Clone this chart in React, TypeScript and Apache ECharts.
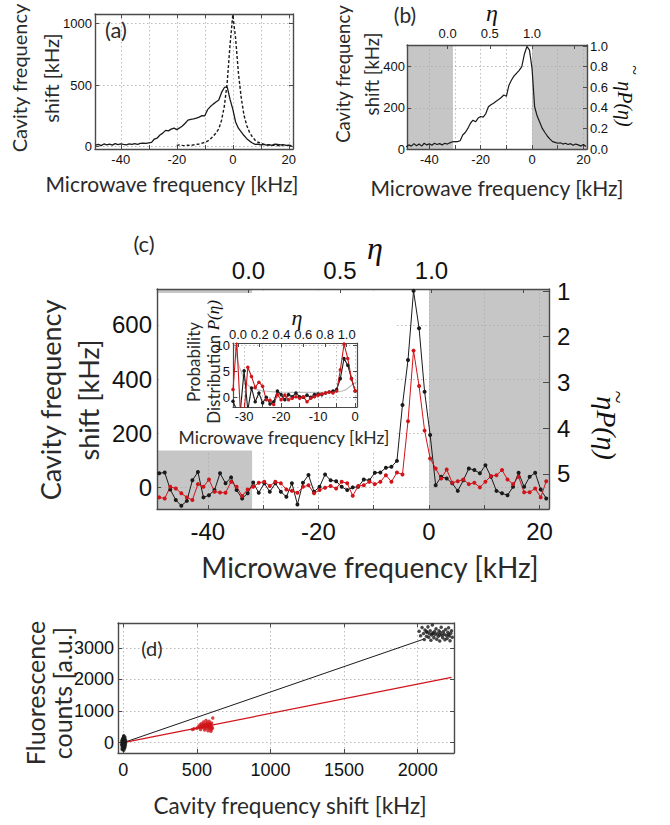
import React, { useEffect, useRef } from "react";
import * as echarts from "echarts";

// ---------- panel (a) ----------
const freqAB = [-49,-48,-47,-46,-45,-44,-43,-42,-41,-40,-39,-38,-37,-36,-35,-34,-33,-32,-31,-30,-29,-28,-27,-26,-25,-24,-23,-22,-21,-20,-19,-18,-17,-16,-15,-14,-13,-12,-11,-10,-9,-8,-7,-6,-5,-4,-3,-2,-1,0,1,2,3,4,5,6,7,8,9,10,11,12,13,14,15,16,17,18,19,20,21];
const solidA = [12,18,8,22,14,20,12,24,16,22, 18,15,22,18,24,19,27,29,27,31, 35,62,70,95,110,132,128,142,150,138, 152,168,190,215,222,225,232,240,252,250, 300,325,345,362,378,440,480,485,385, 305,200,150,120,90,65,45,30,18,20, 15,18,12,16,10,20,18,14,16,10,12,8];
const freqDashA = [-20,-19,-18,-17,-16,-15,-14,-13,-12,-11,-10,-9,-8,-7,-6,-5,-4,-3,-2,-1,0,1,2,3,4,5,6,7,8,9,10,11,12,13,14,15,16,17,18];
const dashedA = [10,14,10,8,12,10,14,18,22,28, 35,45,62,85,110,145,215,330,520,820, 1070,880,600,400,255,170,115,80,52,36, 28,20,16,12,10,12,8,10,8];

// ---------- panel (b) ----------
const solidB = [10,20,14,26,16,24,14,28,20,25, 18,28,22,26,20,28,24,30,35,36, 36,40,68,80,100,125,140,132,150,158, 155,172,205,215,222,232,240,250,262,256, 310,335,355,368,382,400,460,498,480, 390,205,160,130,100,80,62,48,36,32, 28,30,24,28,22,26,18,24,20,14,22,12];
const grayB = [[-48.7, -30.8], [0, 21.4]];

// ---------- panel (c) ----------
const freqC = [-48.8,-47.8,-46.8,-45.8,-44.8,-43.8,-42.8,-41.8,-40.8,-39.8,-38.8,-37.8,-36.8,-35.8,-34.8,-33.8,-32.8,-31.8,-30.8,-29.8,-28.8,-27.8,-26.8,-25.8,-24.8,-23.8,-22.8,-21.8,-20.8,-19.8,-18.8,-17.8,-16.8,-15.8,-14.8,-13.8,-12.8,-11.8,-10.8,-9.8,-8.8,-7.8,-6.8,-5.8,-4.8,-3.8,-2.8,-1.8,-0.8,0.2,1.2,2.2,3.2,4.2,5.2,6.2,7.2,8.2,9.2,10.2,11.2,12.2,13.2,14.2,15.2,16.2,17.2,18.2,19.2,20.2,21.2];
const blackC = [51,54,-9,-48,-69,-51,25,56,-38,-30,-11,51,14,36,-11,-42,-23,17,-21,14,-17,14,-17,-36,14,-64,16,45,-17,1,47,25,22,1,-11,-1, 1,28,25,53,54,72,75,97,304,470,726,588,353,193, 7,38,32,14,-14,25,69,63,51,81,38,-14,-23,-30,1,53,1,38,53,-9,-42];
const redC = [-38,-42,1,-5,-23,-38,-48,11,1,28,-17,-20,-21,20,1,-33,-9,1,16,20,4,20,14,-9,-14,-21,1,7,-23,-11,-2,4,-5,20,14,-32, 4,7,20,11,20,44,20,54,47, 244,505,374,209,106,69,32,65,16,22,28,11,16,-1,20,41,44,63,28,11,38,-19,-19,-5,-38,22];
const grayC = [[-49.2, -32], [0, 21.7]];

// ---------- inset of (c) ----------
const freqInset = [-33,-32,-31,-30,-29,-28,-27,-26,-25,-24,-23,-22,-21,-20,-19,-18,-17,-16,-15,-14,-13,-12,-11,-10,-9,-8,-7,-6,-5,-4,-3,-2,-1,0];
const blackInset = [-0.8,-2.5,-2.5,5.1,-2.5,1.8,-0.9,0.8,-1.1,0,-1.3,-0.9,1.2,0.5,-0.5,0.5,0.1,0.8,0.1,0,0.4,0,0.5,0.6,0.5,0.8,1.0,1.2,1.5,3.6,7.5,6.2,3.6,1.2];
const redInset = [1.5,11,-3,-3,5.8,4.0,1.9,2.9,2.1,-0.5,-0.6,-1.4,0.5,-0.5,0.4,-0.5,-0.2,0.1,-0.2,0.1,-0.9,-0.2,0.1,0.4,0.6,0.8,1.0,0.8,1.2,5.3,10.3,7.5,3.6,1.2];
const theoryInset = [[-32.6,10.5],[-32,8],[-31.5,6.3],[-30.8,5.0],[-30,3.6],[-29,2.4],[-28,1.9],[-27,1.6],[-25.4,1.3],[-23,1.1],[-20.9,1.0],[-17,0.95],[-12,0.92],[-8,0.95],[-4.6,1.05],[-3,1.3],[-1.9,1.8],[-1,2.3],[0,2.8],[0.4,3.0]];

// ---------- panel (d) ----------
const blackLowD = [[-5,-120],[3,80],[-8,20],[6,-60],[0,150],[10,-10],[-3,-200],[12,110],[-10,60],[4,-140],[8,40],[-6,-30],[2,200],[14,-80],[-2,90],[7,-180],[-9,-90],[5,10],[1,-40],[11,170],[-4,130],[9,-120],[-7,-160],[3,-240],[13,30],[-1,60],[6,120],[-11,-50],[15,-20],[0,-90],[4,220],[-6,100],[8,-30],[2,-10],[16,70],[-3,-60],[10,-150],[-8,-210],[5,160],[1,30]];
const redD = [[470,420],[480,440],[500,460],[510,500],[520,560],[525,420],[530,600],[535,500],[540,480],[545,650],[550,540],[552,400],[555,580],[560,520],[562,700],[565,460],[570,540],[572,620],[575,380],[578,500],[580,560],[583,680],[585,440],[588,520],[590,600],[592,480],[595,560],[598,420],[600,620],[602,500],[605,460],[608,780],[540,560],[555,470],[565,600],[575,510],[530,520],[585,580],[595,360],[520,480]];
const blackHighD = [[2010,3520],[2020,3380],[2030,3640],[2040,3450],[2045,3260],[2050,3560],[2060,3360],[2065,3490],[2070,3660],[2075,3330],[2080,3440],[2085,3540],[2090,3240],[2095,3400],[2100,3720],[2105,3470],[2110,3320],[2115,3510],[2120,3420],[2125,3600],[2130,3270],[2135,3450],[2140,3360],[2145,3540],[2150,3210],[2155,3480],[2160,3650],[2165,3400],[2170,3320],[2175,3510],[2180,3430],[2185,3250],[2190,3580],[2195,3390],[2200,3290],[2205,3490],[2210,3630],[2215,3370],[2220,3220],[2225,3460],[2230,3540],[2235,3330],[2100,3440],[2150,3400],[2060,3510],[2210,3420]];
const fitBlackD = [[0, 0], [2040, 3270]];
const fitRedD = [[0, 0], [2230, 2063]];

const SANS = "'Liberation Sans', Arial, sans-serif";
const TITLE = "Lato, 'Open Sans', sans-serif";
const SERIF = "'Liberation Serif', 'DejaVu Serif', serif";
const FRAME = "#4a4a4a";
const BLACK = "#1a1a1a";
const RED = "#d0141a";
const GRAY = "#c6c6c6";

const isMul = (v: number, s: number) => Math.abs(v / s - Math.round(v / s)) < 1e-6;
const fmt = (s: number, d: number, lo = -Infinity, hi = Infinity) => (v: number) =>
  isMul(v, s) && v >= lo - 1e-9 && v <= hi + 1e-9 ? (Math.abs(v) < 1e-9 ? (0).toFixed(d) : v.toFixed(d)) : "";

const GRID_LINE = { show: true, lineStyle: { color: "#ababab", type: [1.5, 2.5], width: 0.8 } };

const AX = (o: any) => ({
  type: "value",
  z: 3,
  axisLine: { show: true, onZero: false, lineStyle: { color: FRAME, width: 1.4 } },
  axisTick: { show: true, inside: true, length: 4, lineStyle: { color: FRAME, width: 1 } },
  axisLabel: { show: false },
  splitLine: { show: false },
  ...o,
});
const LBL = (size: number, margin: number, formatter: any) => ({
  show: true, fontFamily: SANS, fontSize: size, color: "#111", margin, formatter,
});

const zip = (xs: number[], ys: number[]) => xs.map((x, i) => [x, ys[i]]);

const lineS = (xi: number, yi: number, data: any, color: string, extra: any = {}) => ({
  type: "line", xAxisIndex: xi, yAxisIndex: yi, data, symbol: "none", showSymbol: false,
  lineStyle: { color, width: 1.2 }, itemStyle: { color }, z: 5, silent: true, ...extra,
});

const grayArea = (xi: number, yi: number, ranges: number[][]) => ({
  type: "line", xAxisIndex: xi, yAxisIndex: yi, data: [], z: 1, silent: true,
  markArea: { silent: true, itemStyle: { color: GRAY }, data: ranges.map(r => [{ xAxis: r[0] }, { xAxis: r[1] }]) },
});

const T = (text: string, x: number, y: number, size: number, opt: any = {}) => ({
  type: "text", x, y, z: 20, rotation: opt.rotation || 0,
  style: {
    text, fontSize: size, fontFamily: opt.family || TITLE, fontStyle: opt.italic ? "italic" : "normal",
    fill: opt.fill || "#2a2a2a", align: "center", verticalAlign: "middle", textAlign: "center", textVerticalAlign: "middle",
    lineHeight: opt.lineHeight, rich: opt.rich,
  },
});

export default function App() {
  const ref = useRef<HTMLDivElement>(null);
  useEffect(() => {
    if (!ref.current) return;
    const chart = echarts.init(ref.current, null, { renderer: "svg" });
    const option: any = {
      animation: false,
      backgroundColor: "#fff",
      grid: [
        { left: 95, top: 14, width: 198, height: 135 },
        { left: 407, top: 45, width: 180, height: 104 },
        { left: 157, top: 289, width: 392, height: 220 },
        { left: 233, top: 343, width: 124, height: 64 },
        { left: 118, top: 623, width: 336, height: 130 },
      ],
      xAxis: [
        AX({ gridIndex: 0, position: "bottom", min: -49.2, max: 21.5, splitNumber: 7, axisLabel: LBL(13, 4, fmt(20, 0)), splitLine: GRID_LINE }),
        AX({ gridIndex: 0, position: "top", min: -49.2, max: 21.5, splitNumber: 7 }),
        AX({ gridIndex: 1, position: "bottom", min: -48.7, max: 21.4, splitNumber: 7, axisLabel: LBL(13, 4, fmt(20, 0)), splitLine: GRID_LINE }),
        AX({ gridIndex: 1, position: "top", min: -0.481, max: 1.652, splitNumber: 4, axisLabel: LBL(13, 5, fmt(0.5, 1, 0, 1)) }),
        AX({ gridIndex: 2, position: "bottom", min: -49.2, max: 21.7, splitNumber: 7, axisLabel: LBL(24, 10, fmt(20, 0)), splitLine: GRID_LINE }),
        AX({ gridIndex: 2, position: "top", min: -0.5, max: 1.642, splitNumber: 4, axisLabel: LBL(24, 7, fmt(0.5, 1, 0, 1)) }),
        AX({ gridIndex: 3, position: "bottom", min: -33, max: 0.5, splitNumber: 7, z: 10, axisLabel: LBL(13, 3, fmt(10, 0)), splitLine: GRID_LINE,
          axisLine: { show: true, onZero: false, lineStyle: { color: FRAME, width: 1.2 } } }),
        AX({ gridIndex: 3, position: "top", min: -0.046, max: 1.095, splitNumber: 5, z: 10, axisLabel: LBL(13, 2, fmt(0.2, 1, 0, 1)),
          axisLine: { show: true, onZero: false, lineStyle: { color: FRAME, width: 1.2 } } }),
        AX({ gridIndex: 4, position: "bottom", min: -36, max: 2247, splitNumber: 5, axisLabel: LBL(18, 8, fmt(500, 0)), splitLine: GRID_LINE }),
        AX({ gridIndex: 4, position: "top", min: -36, max: 2247, splitNumber: 5 }),
      ],
      yAxis: [
        AX({ gridIndex: 0, position: "left", min: -19, max: 1076, splitNumber: 2, axisLabel: LBL(13, 3, fmt(500, 0)), splitLine: GRID_LINE }),
        AX({ gridIndex: 0, position: "right", min: -19, max: 1076, splitNumber: 2 }),
        AX({ gridIndex: 1, position: "left", min: 0, max: 505, splitNumber: 3, axisLabel: LBL(13, 2, fmt(200, 0)), splitLine: GRID_LINE }),
        AX({ gridIndex: 1, position: "right", min: 0, max: 1.01, splitNumber: 5, axisLabel: LBL(13, 3, fmt(0.2, 1, 0, 1)) }),
        AX({ gridIndex: 2, position: "left", min: -81, max: 733, splitNumber: 4, axisLabel: LBL(24, 5, fmt(200, 0)), splitLine: GRID_LINE }),
        AX({ gridIndex: 2, position: "right", inverse: true, min: 0.956, max: 5.77, splitNumber: 5, axisLabel: LBL(24, 8, fmt(1, 0, 1, 5)),
          axisTick: { show: true, inside: true, length: 6, lineStyle: { color: FRAME, width: 1 } } }),
        AX({ gridIndex: 3, position: "left", min: -1.9, max: 10.5, splitNumber: 2, z: 10, axisLabel: LBL(13, 3, fmt(5, 0)), splitLine: GRID_LINE,
          axisLine: { show: true, onZero: false, lineStyle: { color: FRAME, width: 1.2 } } }),
        AX({ gridIndex: 3, position: "right", min: -1.9, max: 10.5, splitNumber: 2, z: 10,
          axisLine: { show: true, onZero: false, lineStyle: { color: FRAME, width: 1.2 } } }),
        AX({ gridIndex: 4, position: "left", min: -325, max: 3782, splitNumber: 4, axisLabel: LBL(18, 4, fmt(1000, 0)), splitLine: GRID_LINE }),
        AX({ gridIndex: 4, position: "right", min: -325, max: 3782, splitNumber: 4 }),
      ],
      series: [
        // (a)
        lineS(0, 0, zip(freqAB, solidA), BLACK, { lineStyle: { color: BLACK, width: 1.3 } }),
        lineS(0, 0, zip(freqDashA, dashedA), BLACK, { lineStyle: { color: BLACK, width: 1.4, type: [3, 2] } }),
        // (b)
        grayArea(2, 2, grayB),
        lineS(2, 2, zip(freqAB, solidB), BLACK, { lineStyle: { color: BLACK, width: 1.2 } }),
        // (c)
        grayArea(4, 4, grayC),
        lineS(4, 4, zip(freqC, blackC), BLACK, { symbol: "circle", showSymbol: true, showAllSymbol: true, symbolSize: 4, lineStyle: { color: BLACK, width: 1 } }),
        lineS(4, 4, zip(freqC, redC), RED, { symbol: "circle", showSymbol: true, showAllSymbol: true, symbolSize: 4, lineStyle: { color: RED, width: 1 } }),
        // inset
        lineS(6, 6, theoryInset, "#bdbdbd", { smooth: true, z: 11, lineStyle: { color: "#bdbdbd", width: 1.2 } }),
        lineS(6, 6, zip(freqInset, blackInset), BLACK, { z: 12, symbol: "circle", showSymbol: true, showAllSymbol: true, symbolSize: 3.5, lineStyle: { color: BLACK, width: 1.1 } }),
        lineS(6, 6, zip(freqInset, redInset), RED, { z: 12, symbol: "circle", showSymbol: true, showAllSymbol: true, symbolSize: 3.5, lineStyle: { color: RED, width: 1.1 } }),
        // (d)
        lineS(8, 8, fitBlackD, BLACK, { lineStyle: { color: BLACK, width: 1 } }),
        lineS(8, 8, fitRedD, RED, { lineStyle: { color: RED, width: 1.2 } }),
        { type: "scatter", xAxisIndex: 8, yAxisIndex: 8, data: blackLowD, symbolSize: 3.5, itemStyle: { color: BLACK }, z: 6, silent: true },
        { type: "scatter", xAxisIndex: 8, yAxisIndex: 8, data: redD, symbolSize: 3.5, itemStyle: { color: RED }, z: 6, silent: true },
        { type: "scatter", xAxisIndex: 8, yAxisIndex: 8, data: blackHighD, symbolSize: 3.5, itemStyle: { color: BLACK }, z: 6, silent: true },
      ],
      graphic: [
        { type: "rect", z: 4, shape: { x: 158.5, y: 293, width: 238, height: 157.5 }, style: { fill: "#fff" } },
        T("(a)", 116, 29, 22),
        T("(b)", 405, 14, 21),
        T("(c)", 144, 243, 22),
        T("(d)", 152, 648, 20),
        T("η", 492, 13, 24, { family: SERIF, italic: true, fill: "#111" }),
        T("η", 375, 248, 32, { family: SERIF, italic: true, fill: "#111" }),
        T("η", 297, 317, 22, { family: SERIF, italic: true, fill: "#111" }),
        T("Microwave frequency [kHz]", 172, 183, 21),
        T("Cavity frequency\nshift [kHz]", 35, 78, 20, { rotation: Math.PI / 2, lineHeight: 32 }),
        T("Microwave frequency [kHz]", 497, 187, 21),
        T("Cavity frequency\nshift [kHz]", 357, 74, 18.5, { rotation: Math.PI / 2, lineHeight: 29 }),
        T("ηP(η)", 625, 104, 20, { family: SERIF, italic: true, fill: "#111", rotation: -Math.PI / 2 }),
        T("~", 634, 70, 18, { family: SERIF, fill: "#111", rotation: -Math.PI / 2 }),
        T("Microwave frequency [kHz]", 370, 567, 28),
        T("Cavity frequency\nshift [kHz]", 69, 400, 27, { rotation: Math.PI / 2, lineHeight: 38 }),
        T("ηP(η)", 606, 428, 28, { family: SERIF, italic: true, fill: "#111", rotation: -Math.PI / 2 }),
        T("~", 618, 397, 24, { family: SERIF, fill: "#111", rotation: -Math.PI / 2 }),
        T("{a|Probability}\n{a|Distribution }{b|P(η)}", 203, 362, 17, {
          rotation: Math.PI / 2, lineHeight: 20,
          rich: {
            a: { fontFamily: TITLE, fontSize: 17, fill: "#2a2a2a", lineHeight: 20 },
            b: { fontFamily: SERIF, fontStyle: "italic", fontSize: 17, fill: "#111", lineHeight: 20 },
          },
        }),
        T("Microwave frequency [kHz]", 284, 437, 17.5),
        T("Cavity frequency shift [kHz]", 290, 805, 22.5),
        T("Fluorescence\ncounts [a.u.]", 48, 693, 25, { rotation: Math.PI / 2, lineHeight: 27 }),
      ],
    };
    chart.setOption(option);
    return () => chart.dispose();
  }, []);
  return <div ref={ref} style={{ position: "absolute", left: 0, top: 0, width: 670, height: 825, background: "#fff" }} />;
}
